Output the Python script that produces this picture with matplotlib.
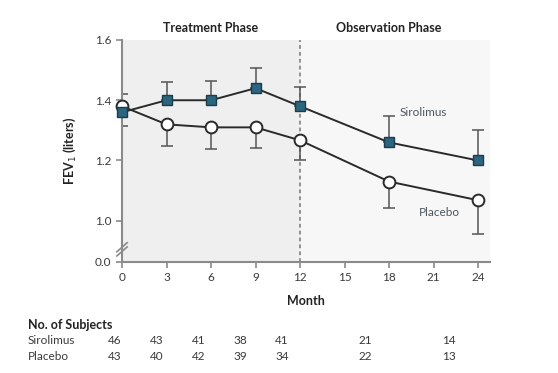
"""FEV1 over time, sirolimus vs placebo, with numbers-at-risk table."""

import matplotlib
matplotlib.use("Agg")
import matplotlib.pyplot as plt
import matplotlib.transforms as mtransforms

plt.rcParams["font.family"] = ["Lato", "DejaVu Sans"]

# ── Data ──
months = [0, 3, 6, 9, 12, 18, 24]
sirolimus = [1.36, 1.40, 1.40, 1.44, 1.38, 1.26, 1.20]
sirolimus_err = [0.06, 0.06, 0.064, 0.066, 0.063, 0.087, 0.10]
placebo = [1.38, 1.32, 1.31, 1.31, 1.267, 1.13, 1.068]
placebo_err = [0.067, 0.072, 0.071, 0.068, 0.067, 0.088, 0.112]
n_sirolimus = [46, 43, 41, 38, 41, 21, 14]
n_placebo = [43, 40, 42, 39, 34, 22, 13]
x_ticks = [0, 3, 6, 9, 12, 15, 18, 21, 24]
y_ticks = [1.0, 1.2, 1.4, 1.6]

# broken axis: "0.0" sits a little below 1.0
Y_BOTTOM = 0.863

TEAL = "#2b6580"
LINE = "#2a2a2a"
AXIS = "#8a8a8a"
TEXT = "#3a3a3a"
LABEL = "#4d5660"

W, H = 558, 373
fig = plt.figure(figsize=(W / 100, H / 100), dpi=100)
ax = fig.add_axes([122 / W, 1 - 262 / H, (490 - 122) / W, (262 - 40) / H])

ax.set_xlim(0, 24.8)
ax.set_ylim(Y_BOTTOM, 1.6)

# phase shading
ax.axvspan(0, 12, color="#efefef", zorder=0, lw=0)
ax.axvspan(12, 24.8, color="#f7f7f7", zorder=0, lw=0)
ax.axvline(12, color="#777777", lw=1.1, ls=(0, (2.5, 2)), zorder=1)

# error bars (one-sided: sirolimus up, placebo down)
ax.errorbar(months, sirolimus, yerr=[[0] * len(months), sirolimus_err],
            fmt="none", ecolor="#555555", elinewidth=1.1, capsize=4,
            capthick=1.1, zorder=2)
ax.errorbar(months, placebo, yerr=[placebo_err, [0] * len(months)],
            fmt="none", ecolor="#555555", elinewidth=1.1, capsize=4,
            capthick=1.1, zorder=2)

ax.plot(months, placebo, color=LINE, lw=1.4, marker="o", ms=8.5,
        mfc="white", mec=LINE, mew=1.4, zorder=3, clip_on=False)
ax.plot(months, sirolimus, color=LINE, lw=1.4, marker="s", ms=7.5,
        mfc=TEAL, mec="#1d3c4c", mew=1.0, zorder=4, clip_on=False)

ax.text(18.7, 1.36, "Sirolimus", fontsize=8.5, color=LABEL, va="center")
ax.text(20.0, 1.027, "Placebo", fontsize=8.5, color=LABEL, va="center")

# axes styling
for side in ("top", "right"):
    ax.spines[side].set_visible(False)
for side in ("left", "bottom"):
    ax.spines[side].set_color(AXIS)
    ax.spines[side].set_linewidth(1.5)

ax.set_xticks(x_ticks)
ax.set_yticks([Y_BOTTOM] + y_ticks)
ax.set_yticklabels(["0.0"] + [f"{v:.1f}" for v in y_ticks])
ax.tick_params(colors=AXIS, labelcolor=TEXT, labelsize=8.5, length=4,
               width=1.2)

# axis break marks
bt = mtransforms.blended_transform_factory(ax.transAxes, ax.transData)
for dy in (-0.007, 0.007):
    ax.plot([-0.014, 0.014], [0.905 + dy - 0.015, 0.905 + dy + 0.015],
            transform=bt, color=AXIS, lw=1.2, clip_on=False, zorder=5)

ax.set_xlabel("Month", fontsize=9, fontweight="bold", color="#222222",
              labelpad=8)
ax.set_ylabel("FEV$_1$ (liters)", fontsize=9, fontweight="bold",
              color="#222222", labelpad=12)

# phase headers
tx = mtransforms.blended_transform_factory(ax.transData, fig.transFigure)
ax.text(6, 1 - 28 / H, "Treatment Phase", transform=tx, ha="center",
        va="center", fontsize=9, fontweight="bold", color="#222222")
ax.text(18, 1 - 28 / H, "Observation Phase", transform=tx, ha="center",
        va="center", fontsize=9, fontweight="bold", color="#222222")

# numbers-at-risk table
fig.text(28 / W, 1 - 325 / H, "No. of Subjects", fontsize=9,
         fontweight="bold", color="#222222", va="center")
rows = [("Sirolimus", n_sirolimus, 340), ("Placebo", n_placebo, 356)]
for name, counts, ypx in rows:
    fig.text(28 / W, 1 - ypx / H, name, fontsize=8.5, color=TEXT,
             va="center")
    for m, n in zip(months, counts):
        fig.text((115 + 13.9 * m) / W, 1 - ypx / H, str(n), fontsize=8.5,
                 color=TEXT, ha="center", va="center")

fig.savefig("out.png", dpi=100, facecolor="white")
